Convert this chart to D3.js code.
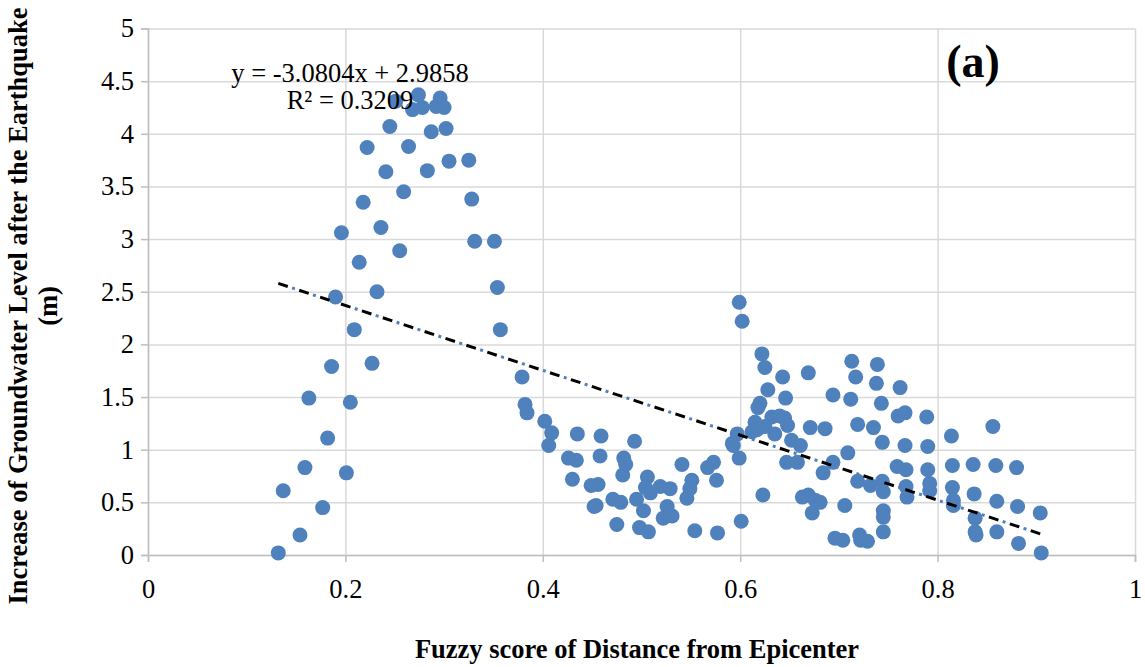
<!DOCTYPE html>
<html lang="en">
<head>
<meta charset="UTF-8"/>
<title>Groundwater rise vs fuzzy distance score</title>
<script src="https://d3js.org/d3.v7.min.js"></script>
<style>
  body { margin: 0; background: #fff; }
  text { font-family: "Liberation Serif", "Times New Roman", serif; fill: #000; }
</style>
</head>
<body>
<script>
// fuzzy score of distance from epicenter (x) and groundwater rise in m (y)
var fuzzyScore = [
  0.132,0.137,0.154,0.159,0.163,0.177,0.182,0.186,0.190,0.196,0.201,0.205,0.209,0.214,0.218,0.222,
  0.227,0.232,0.236,0.241,0.245,0.251,0.255,0.259,0.264,0.268,0.274,0.278,0.283,0.287,0.292,0.296,
  0.300,0.302,0.305,0.325,0.328,0.331,0.351,0.354,0.357,
  0.379,0.382,0.384,0.402,0.409,0.406,0.435,0.459,0.493,0.426,0.434,0.458,0.482,0.484,0.481,0.430,
  0.449,0.456,0.506,0.504,0.509,0.452,0.454,0.471,0.479,0.495,0.502,0.475,0.498,0.507,0.519,0.529,
  0.541,0.567,0.573,0.576,0.551,0.549,0.546,0.526,0.522,0.531,0.554,0.577,0.601,
  0.599,0.602,0.622,0.625,0.643,0.669,0.713,0.739,0.717,0.738,0.628,0.646,0.694,0.712,0.743,0.762,
  0.620,0.618,0.632,0.640,0.645,0.615,0.617,0.612,0.625,0.648,0.635,0.671,0.686,0.597,0.592,0.593,
  0.652,0.661,0.599,0.647,0.658,0.694,0.684,0.709,0.623,0.663,0.669,0.676,0.681,0.673,0.706,0.696,
  0.704,0.760,0.767,0.789,0.719,0.735,0.744,0.767,0.790,0.814,0.856,0.759,0.768,0.790,0.815,0.836,
  0.859,0.880,0.719,0.732,0.744,0.745,0.768,0.769,0.792,0.792,0.815,0.816,0.816,0.837,0.860,0.881,
  0.904,0.745,0.745,0.745,0.838,0.838,0.839,0.860,0.882,0.905,0.721,0.722,0.729
];
var gwRise = [
  0.02,0.61,0.19,0.83,1.49,0.45,1.11,1.79,2.45,3.06,0.78,1.45,2.14,2.78,3.35,3.87,
  1.82,2.50,3.11,3.64,4.07,4.31,2.89,3.45,3.88,4.23,4.37,4.25,3.65,4.02,4.26,4.34,
  4.25,4.05,3.74,3.75,3.38,2.98,2.98,2.54,2.14,
  1.69,1.43,1.35,1.27,1.16,1.04,1.15,1.13,1.08,0.92,0.90,0.94,0.92,0.86,0.76,0.72,
  0.66,0.67,0.74,0.64,0.59,0.46,0.47,0.53,0.50,0.53,0.42,0.29,0.26,0.22,0.65,0.63,
  0.86,0.83,0.88,0.71,0.71,0.63,0.54,0.46,0.35,0.37,0.23,0.21,0.32,
  2.40,2.22,1.91,1.78,1.69,1.73,1.84,1.81,1.69,1.63,1.57,1.49,1.52,1.48,1.44,1.59,
  1.44,1.40,1.31,1.32,1.30,1.26,1.19,1.17,1.22,1.23,1.15,1.21,1.20,1.15,1.06,1.04,
  1.09,1.04,0.92,0.88,0.88,0.88,0.78,0.97,0.57,0.55,0.57,0.52,0.50,0.40,0.47,0.16,
  0.14,1.32,1.35,1.31,1.24,1.21,1.07,1.04,1.03,1.13,1.22,0.84,0.81,0.81,0.85,0.86,
  0.85,0.83,0.70,0.66,0.70,0.60,0.65,0.55,0.68,0.61,0.64,0.52,0.47,0.58,0.51,0.46,
  0.40,0.42,0.36,0.22,0.35,0.22,0.19,0.22,0.11,0.02,0.19,0.14,0.13
];
var xTicks = [0, 0.2, 0.4, 0.6, 0.8, 1];
var yTicks = [0, 0.5, 1, 1.5, 2, 2.5, 3, 3.5, 4, 4.5, 5];
var trendSlope = -3.0804;
var trendIntercept = 2.9858;
var trendR2 = 0.3209;

var w = 1145, h = 667;
var padLeft = 148, padRight = 1135, padTop = 28.5, padBottom = 555;
var fs = 26.5;

var points = fuzzyScore.map(function(x, i) { return [x, gwRise[i]]; });

var xScale = d3.scaleLinear().domain([0, 1]).range([padLeft, padRight]);
var yScale = d3.scaleLinear().domain([0, 5]).range([padBottom, padTop]);

var svg = d3.select("body").append("svg")
    .attr("width", w)
    .attr("height", h);

/* gridlines */
svg.append("g")
    .attr("transform", "translate(0," + padBottom + ")")
    .call(d3.axisBottom(xScale).tickValues(xTicks).tickSize(-(padBottom - padTop)).tickFormat(""))
    .call(function(g) { g.select(".domain").remove(); })
    .selectAll("line").attr("stroke", "#d9d9d9").attr("stroke-width", 1.5);

svg.append("g")
    .attr("transform", "translate(" + padLeft + ",0)")
    .call(d3.axisLeft(yScale).tickValues(yTicks).tickSize(-(padRight - padLeft)).tickFormat(""))
    .call(function(g) { g.select(".domain").remove(); })
    .selectAll("line").attr("stroke", "#d9d9d9").attr("stroke-width", 1.5);

/* axes */
var xAxis = svg.append("g")
    .attr("transform", "translate(0," + padBottom + ")")
    .call(d3.axisBottom(xScale).tickValues(xTicks).tickSize(7).tickPadding(17).tickFormat(d3.format("")));
var yAxis = svg.append("g")
    .attr("transform", "translate(" + padLeft + ",0)")
    .call(d3.axisLeft(yScale).tickValues(yTicks).tickSize(7).tickPadding(7).tickFormat(d3.format("")));

[xAxis, yAxis].forEach(function(a) {
  a.select(".domain").attr("stroke", "#bfbfbf").attr("stroke-width", 1.5);
  a.selectAll("line").attr("stroke", "#bfbfbf").attr("stroke-width", 1.5);
  a.selectAll("text")
    .attr("font-family", "Liberation Serif, Times New Roman, serif")
    .attr("font-size", fs)
    .attr("fill", "#000");
});

/* points */
svg.append("g").selectAll("circle")
    .data(points)
    .enter()
    .append("circle")
    .attr("cx", function(d) { return xScale(d[0]); })
    .attr("cy", function(d) { return yScale(d[1]); })
    .attr("r", 7.5)
    .attr("fill", "#4f81bd");

/* linear trendline: black dash with blue dots */
var x0 = d3.min(fuzzyScore), x1 = d3.max(fuzzyScore);
var trend = [[x0, trendSlope * x0 + trendIntercept], [x1, trendSlope * x1 + trendIntercept]];
var line = d3.line().x(function(d) { return xScale(d[0]); }).y(function(d) { return yScale(d[1]); });

svg.append("path")
    .attr("d", line(trend))
    .attr("stroke", "#000")
    .attr("stroke-width", 3)
    .attr("stroke-dasharray", "10,12")
    .attr("fill", "none");
svg.append("path")
    .attr("d", line(trend))
    .attr("stroke", "#4f81bd")
    .attr("stroke-width", 3)
    .attr("stroke-dasharray", "3,19")
    .attr("stroke-dashoffset", -14.5)
    .attr("fill", "none");

/* equation */
svg.append("text")
    .attr("x", 350).attr("y", 82)
    .attr("text-anchor", "middle")
    .attr("font-size", fs)
    .text("y = " + trendSlope + "x + " + trendIntercept);
svg.append("text")
    .attr("x", 350).attr("y", 109)
    .attr("text-anchor", "middle")
    .attr("font-size", fs)
    .text("R² = " + trendR2);

/* panel label */
svg.append("text")
    .attr("x", 973).attr("y", 77)
    .attr("text-anchor", "middle")
    .attr("font-size", 46)
    .attr("font-weight", "bold")
    .text("(a)");

/* axis titles */
svg.append("text")
    .attr("x", 637).attr("y", 658)
    .attr("text-anchor", "middle")
    .attr("font-size", fs)
    .attr("font-weight", "bold")
    .text("Fuzzy score of Distance from Epicenter");

var yTitle = svg.append("text")
    .attr("transform", "translate(27,306) rotate(-90)")
    .attr("text-anchor", "middle")
    .attr("font-size", fs)
    .attr("font-weight", "bold");
yTitle.append("tspan").attr("x", 0).attr("y", 0).text("Increase of Groundwater Level after the Earthquake");
yTitle.append("tspan").attr("x", 0).attr("y", 30).text("(m)");
</script>
</body>
</html>
